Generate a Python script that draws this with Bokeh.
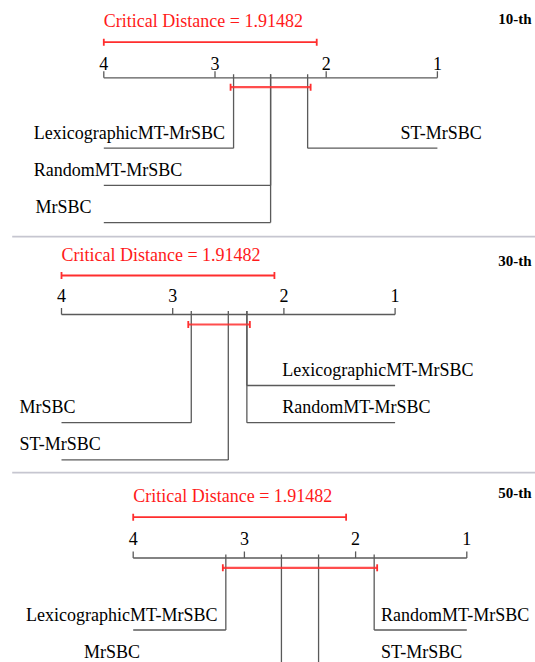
from bokeh.plotting import figure
from bokeh.layouts import column
from bokeh.models import Range1d
from bokeh.core.properties import value
from bokeh.embed import file_html
from bokeh.resources import INLINE

# ---------------- data ----------------
CD = 1.91482
panel_titles = ["10-th", "30-th", "50-th"]
tick_values = [4, 3, 2, 1]
tick_labels = ["4", "3", "2", "1"]

p1_methods = ["LexicographicMT-MrSBC", "RandomMT-MrSBC", "MrSBC", "ST-MrSBC"]
p1_ranks = [2.833, 2.5, 2.5, 2.167]

p2_methods = ["MrSBC", "ST-MrSBC", "LexicographicMT-MrSBC", "RandomMT-MrSBC"]
p2_ranks = [2.833, 2.5, 2.333, 2.333]

p3_methods = ["LexicographicMT-MrSBC", "MrSBC", "ST-MrSBC", "RandomMT-MrSBC"]
p3_ranks = [3.167, 2.667, 2.333, 1.833]

# ---------------- layout (page pixels) ----------------
W = 535
SCALE = 111.2          # px per rank unit
FONT = value("Liberation Serif")
GRAY = "#5a5a5a"
RED = "#ff2e2e"
SEP = "#c6c6d0"
DY18 = 6.5             # baseline correction for 18px text
DY15 = 5.5             # baseline correction for 15px text

layouts = [
    dict(top=0, height=235, rank4=103.3, axis_y=77.3, tick_label_y=69.3, cd_y=41.7,
         clique_y=86.7, first_row=147.7, title_y=23.5,
         side=["left", "left", "left", "right"], row=[0, 1, 2, 0],
         label_x=[33.3, 33.3, 35.0, 400.0], sep=False),
    dict(top=235, height=236, rank4=61.0, axis_y=314.0, tick_label_y=301.7, cd_y=275.0,
         clique_y=324.0, first_row=385.0, title_y=266,
         side=["left", "left", "right", "right"], row=[1, 2, 0, 1],
         label_x=[19.0, 19.0, 281.7, 281.7], sep=True),
    dict(top=471, height=191, rank4=132.7, axis_y=557.5, tick_label_y=544.3, cd_y=516.7,
         clique_y=567.3, first_row=629.5, title_y=498,
         side=["left", "left", "right", "right"], row=[0, 1, 1, 0],
         label_x=[25.6, 83.6, 380.4, 380.4], sep=True),
]
ROW_GAP = 37.2
TEXT_UP = 9.0
TITLE_RIGHT = 531.0

datasets = [(p1_methods, p1_ranks), (p2_methods, p2_ranks), (p3_methods, p3_ranks)]


def make_panel(title, methods, ranks, L):
    top, h = L["top"], L["height"]
    left_r = 4 + L["rank4"] / SCALE
    right_r = left_r - W / SCALE

    def rx(page_x):
        return left_r - page_x / SCALE

    def ly(page_y):
        return page_y - top

    p = figure(width=W, height=h, x_range=Range1d(left_r, right_r),
               y_range=Range1d(h, 0), x_axis_type=None, y_axis_type=None,
               toolbar_location=None, output_backend="svg", min_border=0,
               outline_line_color=None, background_fill_color="white",
               border_fill_color="white")
    p.xgrid.visible = False
    p.ygrid.visible = False

    lo_r, hi_r = min(tick_values), max(tick_values)
    ay = ly(L["axis_y"])

    # separator
    if L["sep"]:
        p.segment(x0=[rx(11.7)], y0=[1], x1=[right_r], y1=[1], line_color=SEP, line_width=2)

    # axis
    p.segment(x0=[hi_r], y0=[ay], x1=[lo_r], y1=[ay], line_color=GRAY, line_width=1.3)
    p.segment(x0=tick_values, y0=[ay - 6.6] * len(tick_values), x1=tick_values,
              y1=[ay] * len(tick_values), line_color=GRAY, line_width=1.3)
    p.text(x=tick_values, y=[ly(L["tick_label_y"]) - DY18] * len(tick_values), text=tick_labels,
           text_font=FONT, text_font_size="18px", text_align="center",
           text_baseline="alphabetic", text_color="black")

    # critical distance bar
    cy = ly(L["cd_y"])
    p.segment(x0=[hi_r], y0=[cy], x1=[hi_r - CD], y1=[cy], line_color=RED, line_width=1.8)
    p.segment(x0=[hi_r, hi_r - CD], y0=[cy - 3.5] * 2, x1=[hi_r, hi_r - CD], y1=[cy + 3.5] * 2,
              line_color=RED, line_width=1.8)
    p.text(x=[hi_r], y=[cy - 14.5 - DY18], text=["Critical Distance = %.5f" % CD],
           text_font=FONT, text_font_size="18px", text_align="left",
           text_baseline="alphabetic", text_color="#ff1a1a")

    # title
    p.text(x=[rx(TITLE_RIGHT)], y=[ly(L["title_y"]) - DY15], text=[title], text_font=FONT,
           text_font_size="15px", text_font_style="bold", text_align="right",
           text_baseline="alphabetic", text_color="black")

    # method lines
    for m, r, side, row, tx in zip(methods, ranks, L["side"], L["row"], L["label_x"]):
        yrow = ly(L["first_row"] + row * ROW_GAP)
        p.segment(x0=[r], y0=[ay - 3.5], x1=[r], y1=[yrow], line_color=GRAY, line_width=1.3)
        end = hi_r if side == "left" else lo_r
        p.segment(x0=[r], y0=[yrow], x1=[end], y1=[yrow], line_color=GRAY, line_width=1.3)
        ty = min(yrow - TEXT_UP, h - 4) - DY18
        p.text(x=[rx(tx)], y=[ty], text=[m], text_font=FONT, text_font_size="18px",
               text_align="left", text_baseline="alphabetic", text_color="black")

    # clique bar (methods not significantly different)
    cmin, cmax = min(ranks), max(ranks)
    if cmax - cmin < CD:
        ext = 3.0 / SCALE
        qy = ly(L["clique_y"])
        p.segment(x0=[cmax + ext], y0=[qy], x1=[cmin - ext], y1=[qy], line_color=RED,
                  line_width=2.2, line_alpha=0.85)
        p.segment(x0=[cmax + ext, cmin - ext], y0=[qy - 3.5] * 2, x1=[cmax + ext, cmin - ext],
                  y1=[qy + 3.5] * 2, line_color=RED, line_width=1.8)
    return p


panels = [make_panel(t, m, r, L) for t, (m, r), L in zip(panel_titles, datasets, layouts)]
layout = column(*panels, spacing=0)

open("out.html", "w").write(file_html(layout, INLINE))
